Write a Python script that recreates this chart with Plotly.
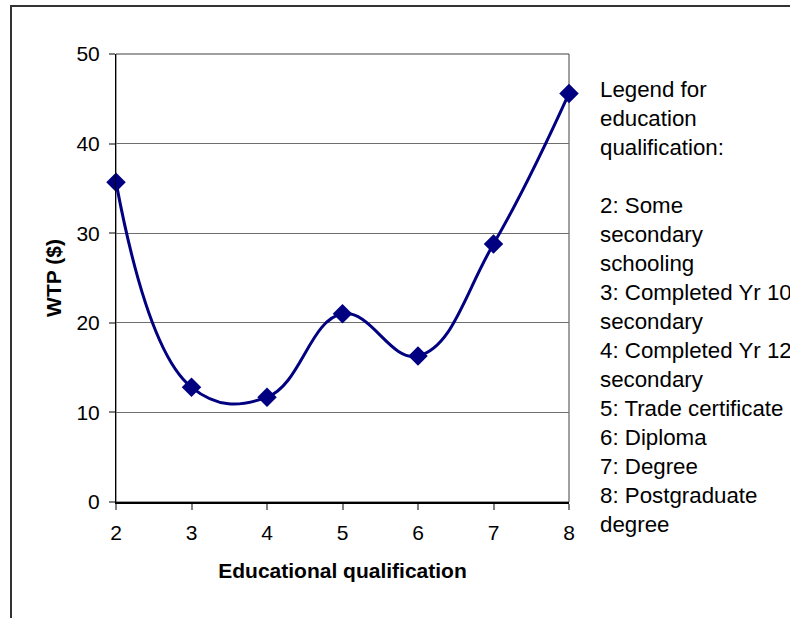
import plotly.graph_objects as go

qualification = [2, 3, 4, 5, 6, 7, 8]
wtp = [35.7, 12.8, 11.7, 21.0, 16.3, 28.8, 45.6]
x_ticks = [2, 3, 4, 5, 6, 7, 8]
y_ticks = [0, 10, 20, 30, 40, 50]
legend_lines = [
    "Legend for", "education", "qualification:", "",
    "2: Some", "secondary", "schooling",
    "3: Completed Yr 10", "secondary",
    "4: Completed Yr 12", "secondary",
    "5: Trade certificate", "6: Diploma", "7: Degree",
    "8: Postgraduate", "degree",
]

FONT = "Liberation Sans, Arial, sans-serif"
W, H = 790, 618
L, R, T, B = 116, 221, 54, 116
pw, ph = W - L - R, H - T - B

fig = go.Figure()
fig.add_trace(go.Scatter(
    x=qualification, y=wtp, mode="lines+markers",
    line=dict(color="#000080", width=3, shape="spline", smoothing=1.2),
    marker=dict(symbol="diamond", size=15, color="#000080"),
    cliponaxis=False, showlegend=False, hoverinfo="skip",
))

fig.update_layout(
    width=W, height=H,
    margin=dict(l=L, r=R, t=T, b=B),
    paper_bgcolor="white", plot_bgcolor="white",
    font=dict(family=FONT, size=21, color="black"),
    xaxis=dict(
        range=[2, 8], tickvals=x_ticks, ticks="outside", ticklen=6,
        tickcolor="#808080", tickwidth=2, showgrid=False, zeroline=False,
        showline=True, linecolor="black", linewidth=2,
        tickfont=dict(size=21), ticklabelstandoff=5,
        title=dict(text="<b>Educational qualification</b>", font=dict(size=21), standoff=20),
    ),
    yaxis=dict(
        range=[0, 50], tickvals=y_ticks, ticks="outside", ticklen=6,
        tickcolor="#808080", tickwidth=2, showgrid=True, gridcolor="#6e6e6e",
        gridwidth=1, zeroline=False, showline=True, linecolor="black", linewidth=1,
        tickfont=dict(size=21), ticklabelstandoff=5,
        title=dict(text="<b>WTP ($)</b>", font=dict(size=21), standoff=9),
    ),
)

# plot-area border (top and right)
fig.add_shape(type="rect", xref="paper", yref="paper", x0=0, x1=1, y0=0, y1=1,
              line=dict(color="#404040", width=1), layer="below")

# outer chart border
fig.add_shape(type="rect", xref="paper", yref="paper",
              xsizemode="pixel", ysizemode="pixel", xanchor=0, yanchor=0,
              x0=11 - L, x1=W + 4 - L, y0=-(H + 10 - (T + ph)), y1=(T + ph) - 6,
              line=dict(color="#333333", width=2))

fig.add_annotation(
    xref="paper", yref="paper", x=(598 - L) / pw, y=1 - (75 - T) / ph,
    xanchor="left", yanchor="top", align="left", showarrow=False,
    text="<br>".join(legend_lines),
    font=dict(family=FONT, size=22.3, color="black"),
)

fig.write_html(
    "out.html",
    config={"displayModeBar": False},
    post_script="document.body.style.margin='0';document.body.style.overflow='hidden';",
)
